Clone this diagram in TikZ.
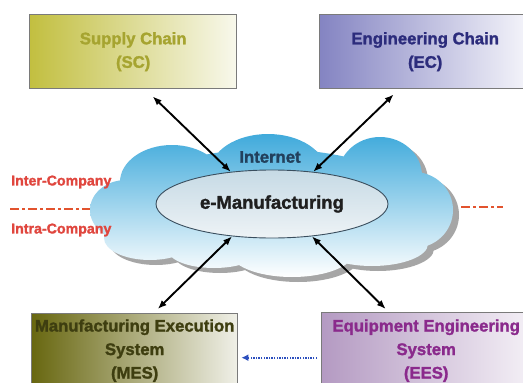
\documentclass[tikz,border=0pt]{standalone}
\usepackage{fontspec}
\setmainfont{Liberation Sans}[BoldFeatures={FakeBold=1.6}]
\usetikzlibrary{arrows.meta,shapes.geometric,calc}

\definecolor{scL}{HTML}{C2BF40}
\definecolor{scR}{HTML}{F8F8EC}
\definecolor{scT}{HTML}{A6A430}
\definecolor{ecL}{HTML}{8484C2}
\definecolor{ecR}{HTML}{F6F6FB}
\definecolor{ecT}{HTML}{2C2C7C}
\definecolor{mesL}{HTML}{686710}
\definecolor{mesR}{HTML}{F0F0E8}
\definecolor{mesT}{HTML}{3E3E10}
\definecolor{eesL}{HTML}{B49AC2}
\definecolor{eesR}{HTML}{F4F0F6}
\definecolor{eesT}{HTML}{8A2A8C}
\definecolor{boxframe}{HTML}{7A7A7A}
\definecolor{cloudtop}{HTML}{40AADB}
\definecolor{cloudmid}{HTML}{B2DDF0}
\definecolor{cloudshade}{HTML}{A6A6A6}
\definecolor{emtop}{HTML}{C6DAE5}
\definecolor{embot}{HTML}{EEF3F6}
\definecolor{emframe}{HTML}{3A4E5E}
\definecolor{nettext}{HTML}{22405C}
\definecolor{sepred}{HTML}{E2532E}
\definecolor{labred}{HTML}{E0463E}
\definecolor{flowblue}{HTML}{2C4FBE}

\tikzset{
  sysbox/.style={draw=boxframe, line width=1.4pt, rectangle, align=center,
    anchor=north west, inner xsep=1pt,
    font=\fontsize{16.7}{23.5}\selectfont\bfseries},
  biarrow/.style={line width=1.9pt, {Latex[length=9pt,width=7pt]}-{Latex[length=9pt,width=7pt]}},
  sepline/.style={sepred, line width=2.6pt, dash pattern=on 9pt off 3pt on 3pt off 3pt},
  sidelabel/.style={labred, anchor=west, inner sep=0pt,
    font=\fontsize{14.2}{16}\selectfont\bfseries},
  cloudlobes/.style={insert path={
    (270,207) ellipse [x radius=150, y radius=58]
    (268,172) ellipse [x radius=58, y radius=38]
    (380,176) ellipse [x radius=42, y radius=39]
    (172,182) ellipse [x radius=52, y radius=37]
    (126,210) ellipse [x radius=36, y radius=30]
    (150,238) ellipse [x radius=46, y radius=22]
    (414,210) ellipse [x radius=39, y radius=38]
    (372,244) ellipse [x radius=56, y radius=22]
    (292,252) ellipse [x radius=62, y radius=25]
    (214,250) ellipse [x radius=46, y radius=18]
  }}
}

\begin{document}
\begin{tikzpicture}[x=1pt,y=-1pt]
\clip (0,0) rectangle (523,383);
\fill[white] (0,0) rectangle (523,383);

% cloud: grey drop shadow, then the shaded body
\fill[cloudshade, shift={(6,5)}, cloudlobes];
\shade[top color=cloudtop, middle color=cloudmid, bottom color=white, cloudlobes];

\node[font=\fontsize{16.7}{18}\selectfont\bfseries, text=nettext] (net) at (270,157) {Internet};

\node[ellipse, draw=emframe, line width=0.9pt, minimum width=232pt, minimum height=68pt,
      inner sep=0pt, top color=emtop, bottom color=embot, text=black!88,
      font=\fontsize{18.5}{20}\selectfont\bfseries] (em) at (272,204) {e-Manufacturing};

% the four systems
\node[sysbox, left color=scL, right color=scR, text=scT,
      minimum width=207pt, minimum height=74pt] (sc) at (29,14) {Supply Chain\\(SC)};
\node[sysbox, left color=ecL, right color=ecR, text=ecT,
      minimum width=211pt, minimum height=74pt] (ec) at (319,14) {Engineering Chain\\(EC)};
\node[sysbox, left color=mesL, right color=mesR, text=mesT,
      minimum width=206pt, minimum height=74pt] (mes) at (31,313) {Manufacturing Execution\\System\\(MES)};
\node[sysbox, left color=eesL, right color=eesR, text=eesT,
      minimum width=209pt, minimum height=76pt] (ees) at (321,312) {Equipment Engineering\\System\\(EES)};

% links between the hub and the systems
\draw[biarrow] ([shift={(19.5,7)}]sc.south) -- (em.142);
\draw[biarrow] ([shift={(-31.5,5)}]ec.south) -- (em.38);
\draw[biarrow] ([shift={(23,-4)}]mes.north) -- (em.219);
\draw[biarrow] ([shift={(-40.5,-3)}]ees.north) -- (em.321);

% company boundary
\coordinate (bl1) at (10,209);
\coordinate (bl2) at (90,209);
\coordinate (br1) at (461,207);
\coordinate (br2) at (503,207);
\draw[sepline] (bl1) -- (bl2);
\draw[sepline] (br1) -- (br2);
\node[sidelabel] (inter) at (11,182) {Inter-Company};
\node[sidelabel] (intra) at (11,230) {Intra-Company};

% equipment data feeding the execution system
\draw[flowblue, line width=2.2pt, dash pattern=on 1.4pt off 1.2pt,
      -{Latex[length=7pt,width=7pt]}] ([shift={(-4,7)}]ees.west) -- ([shift={(3,7)}]mes.east);
\end{tikzpicture}
\end{document}
